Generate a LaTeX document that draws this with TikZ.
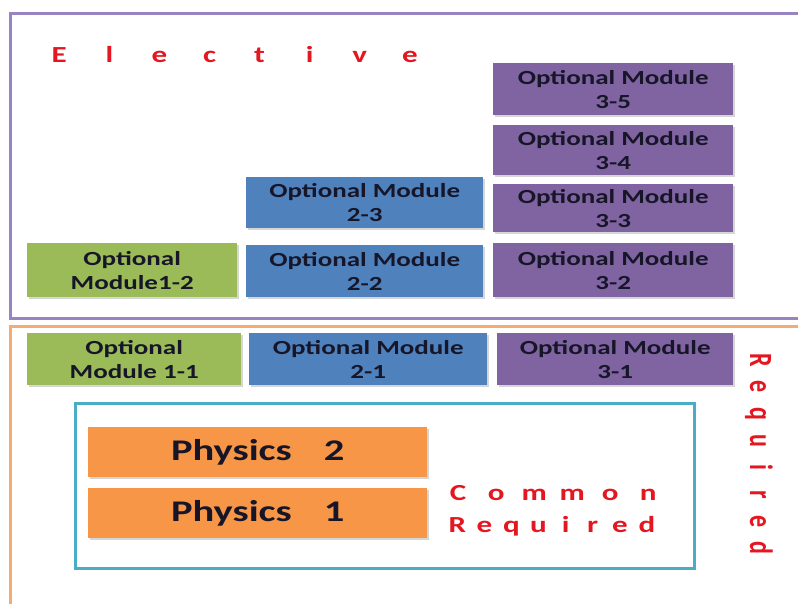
\documentclass[tikz,border=0pt]{standalone}
\usepackage{fontspec}
\usepackage{graphicx}
\newfontfamily\cfs[FakeStretch=1.35]{Carlito}
\newfontfamily\cfn{Carlito}
\usetikzlibrary{shadows}
\definecolor{mgreen}{RGB}{155,187,89}
\definecolor{mblue}{RGB}{79,129,189}
\definecolor{mpurple}{RGB}{128,100,162}
\definecolor{morange}{RGB}{247,150,70}
\definecolor{txtdark}{RGB}{22,22,40}
\definecolor{redtxt}{RGB}{228,22,32}
\definecolor{elecframe}{RGB}{152,132,192}
\definecolor{reqframe}{RGB}{246,172,112}
\definecolor{comframe}{RGB}{75,172,198}
\begin{document}
\begin{tikzpicture}[x=1pt,y=-1pt,
  mod/.style={rectangle, inner sep=0pt, anchor=north west, align=center,
    text=txtdark, font=\cfs\bfseries\fontsize{20}{24}\selectfont,
    drop shadow={shadow xshift=1.5pt, shadow yshift=-2pt, fill=black!16, opacity=1}},
  phys/.style={mod, font=\cfs\bfseries\fontsize{30}{34}\selectfont},
  frame/.style={rectangle, inner sep=0pt, anchor=north west, line width=3pt},
  redlbl/.style={text=redtxt, inner sep=0pt, font=\cfs\bfseries\fontsize{23}{26}\selectfont}
]
\useasboundingbox (0,0) rectangle (798,603);
\fill[white] (0,0) rectangle (798,603);

% frames
\node[frame, draw=elecframe, minimum width=800pt, minimum height=305pt] (elective) at (9,12) {};
\node[frame, draw=reqframe, minimum width=800pt, minimum height=290pt] (required) at (9,325) {};
\node[frame, draw=comframe, minimum width=619pt, minimum height=165pt] (common) at (74,402) {};

% labels
\node[redlbl, anchor=base west] (elabel) at (34,62)
  {\makebox[50.1pt]{E}\makebox[50.1pt]{l}\makebox[50.1pt]{e}\makebox[50.1pt]{c}\makebox[50.1pt]{t}\makebox[50.1pt]{i}\makebox[50.1pt]{v}\makebox[50.1pt]{e}};
\node[redlbl, anchor=base west] (clabel1) at (439,500)
  {\makebox[38pt]{C}\makebox[38pt]{o}\makebox[38pt]{m}\makebox[38pt]{m}\makebox[38pt]{o}\makebox[38pt]{n}};
\node[redlbl, anchor=base west] (clabel2) at (443.5,532)
  {\makebox[27.1pt]{R}\makebox[27.1pt]{e}\makebox[27.1pt]{q}\makebox[27.1pt]{u}\makebox[27.1pt]{i}\makebox[27.1pt]{r}\makebox[27.1pt]{e}\makebox[27.1pt]{d}};
\node[text=redtxt, inner sep=0pt, font=\cfn\bfseries\fontsize{24}{26}\selectfont, rotate=-90, anchor=base] (rlabel) at (750,454)
  {\scalebox{1}[1.35]{\makebox[26.9pt]{R}\makebox[26.9pt]{e}\makebox[26.9pt]{q}\makebox[26.9pt]{u}\makebox[26.9pt]{i}\makebox[26.9pt]{r}\makebox[26.9pt]{e}\makebox[26.9pt]{d}}};

% elective modules
\node[mod, fill=mgreen, minimum width=210pt, minimum height=54pt] (m12) at (27,243) {Optional\\Module1-2};
\node[mod, fill=mblue, minimum width=237pt, minimum height=51pt] (m23) at (246,177) {Optional Module\\2-3};
\node[mod, fill=mblue, minimum width=237pt, minimum height=52pt] (m22) at (246,245) {Optional Module\\2-2};
\node[mod, fill=mpurple, minimum width=240pt, minimum height=52pt] (m35) at (493,63) {Optional Module\\3-5};
\node[mod, fill=mpurple, minimum width=240pt, minimum height=50pt] (m34) at (493,125) {Optional Module\\3-4};
\node[mod, fill=mpurple, minimum width=240pt, minimum height=48pt] (m33) at (493,184) {Optional Module\\3-3};
\node[mod, fill=mpurple, minimum width=240pt, minimum height=54pt] (m32) at (493,243) {Optional Module\\3-2};

% required modules
\node[mod, fill=mgreen, minimum width=214pt, minimum height=52pt] (m11) at (27,333) {Optional\\Module 1-1};
\node[mod, fill=mblue, minimum width=238pt, minimum height=52pt] (m21) at (249,333) {Optional Module\\2-1};
\node[mod, fill=mpurple, minimum width=236pt, minimum height=52pt] (m31) at (497,333) {Optional Module\\3-1};

% physics
\node[phys, fill=morange, minimum width=339pt, minimum height=50pt] (p2) at (88,427) {Physics\hspace{32pt}2};
\node[phys, fill=morange, minimum width=339pt, minimum height=50pt] (p1) at (88,488) {Physics\hspace{32pt}1};
\end{tikzpicture}
\end{document}
